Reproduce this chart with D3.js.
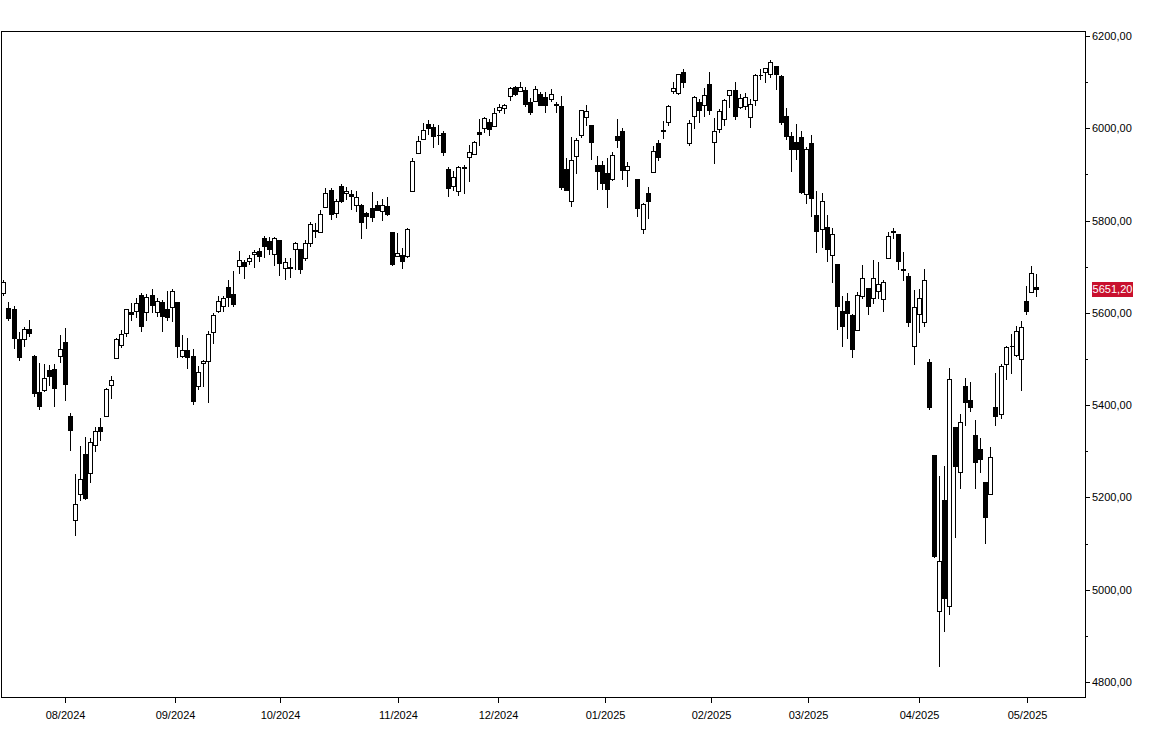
<!DOCTYPE html>
<html><head><meta charset="utf-8">
<script src="https://cdn.jsdelivr.net/npm/d3@7"></script>
<style>
html,body{margin:0;padding:0;background:#fff;}
svg{display:block;}
</style>
</head><body>
<svg id="chart" width="1163" height="747"></svg>
<script>
// ---------- DATA ----------
const dates = [
"2024-07-16","2024-07-17","2024-07-18","2024-07-19","2024-07-22","2024-07-23","2024-07-24","2024-07-25","2024-07-26","2024-07-29","2024-07-30","2024-07-31",
"2024-08-01","2024-08-02","2024-08-05","2024-08-06","2024-08-07","2024-08-08","2024-08-09","2024-08-12","2024-08-13","2024-08-14","2024-08-15","2024-08-16","2024-08-19","2024-08-20","2024-08-21","2024-08-22","2024-08-23","2024-08-26","2024-08-27","2024-08-28","2024-08-29","2024-08-30",
"2024-09-03","2024-09-04","2024-09-05","2024-09-06","2024-09-09","2024-09-10","2024-09-11","2024-09-12","2024-09-13","2024-09-16","2024-09-17","2024-09-18","2024-09-19","2024-09-20","2024-09-23","2024-09-24","2024-09-25","2024-09-26","2024-09-27","2024-09-30",
"2024-10-01","2024-10-02","2024-10-03","2024-10-04","2024-10-07","2024-10-08","2024-10-09","2024-10-10","2024-10-11","2024-10-14","2024-10-15","2024-10-16","2024-10-17","2024-10-18","2024-10-21","2024-10-22","2024-10-23","2024-10-24","2024-10-25","2024-10-28","2024-10-29","2024-10-30","2024-10-31",
"2024-11-01","2024-11-04","2024-11-05","2024-11-06","2024-11-07","2024-11-08","2024-11-11","2024-11-12","2024-11-13","2024-11-14","2024-11-15","2024-11-18","2024-11-19","2024-11-20","2024-11-21","2024-11-22","2024-11-25","2024-11-26","2024-11-27","2024-11-29",
"2024-12-02","2024-12-03","2024-12-04","2024-12-05","2024-12-06","2024-12-09","2024-12-10","2024-12-11","2024-12-12","2024-12-13","2024-12-16","2024-12-17","2024-12-18","2024-12-19","2024-12-20","2024-12-23","2024-12-24","2024-12-26","2024-12-27","2024-12-30","2024-12-31",
"2025-01-02","2025-01-03","2025-01-06","2025-01-07","2025-01-08","2025-01-09","2025-01-10","2025-01-13","2025-01-14","2025-01-15","2025-01-16","2025-01-17","2025-01-21","2025-01-22","2025-01-23","2025-01-24","2025-01-27","2025-01-28","2025-01-29","2025-01-30","2025-01-31",
"2025-02-03","2025-02-04","2025-02-05","2025-02-06","2025-02-07","2025-02-10","2025-02-11","2025-02-12","2025-02-13","2025-02-14","2025-02-18","2025-02-19","2025-02-20","2025-02-21","2025-02-24","2025-02-25","2025-02-26","2025-02-27","2025-02-28",
"2025-03-03","2025-03-04","2025-03-05","2025-03-06","2025-03-07","2025-03-10","2025-03-11","2025-03-12","2025-03-13","2025-03-14","2025-03-17","2025-03-18","2025-03-19","2025-03-20","2025-03-21","2025-03-24","2025-03-25","2025-03-26","2025-03-27","2025-03-28","2025-03-31",
"2025-04-01","2025-04-02","2025-04-03","2025-04-04","2025-04-07","2025-04-08","2025-04-09","2025-04-10","2025-04-11","2025-04-14","2025-04-15","2025-04-16","2025-04-17","2025-04-21","2025-04-22","2025-04-23","2025-04-24","2025-04-25","2025-04-28","2025-04-29","2025-04-30",
"2025-05-01","2025-05-02","2025-05-05"
];

const open = [
5644.09,5610.23,5608.56,5543.37,5544.36,5565.30,5505.84,5428.70,5433.67,5476.55,5478.73,5505.59,
5537.84,5376.63,5151.14,5206.42,5293.13,5252.57,5312.70,5351.88,5376.98,5442.79,5501.13,5530.50,5557.23,5602.88,5603.09,5637.77,5602.52,5639.66,5602.89,5624.51,5607.30,5612.74,
5623.89,5506.68,5520.08,5507.33,5442.07,5490.51,5496.42,5557.48,5603.34,5615.21,5655.51,5641.68,5702.63,5709.32,5711.90,5727.93,5733.65,5762.22,5755.36,5726.52,
5757.73,5698.14,5698.19,5737.80,5737.80,5719.14,5751.80,5778.36,5775.09,5829.81,5866.74,5816.58,5875.62,5859.43,5857.82,5832.70,5834.50,5816.06,5826.75,5833.93,5819.68,5832.65,5775.34,
5723.22,5725.15,5722.43,5864.89,5947.21,5976.76,6008.86,6003.60,5985.75,5989.68,5912.79,5874.17,5863.06,5914.62,5938.00,5944.36,5992.28,6000.03,6014.11,6003.98,
6040.11,6042.97,6069.39,6089.03,6081.38,6083.01,6057.59,6060.15,6074.29,6068.17,6063.79,6052.55,6047.65,5912.71,5842.00,5940.25,5984.63,6024.97,6006.17,5920.67,5919.74,
5903.26,5891.07,5982.81,5993.26,5910.66,null,5890.66,5782.32,5859.10,5905.21,5967.36,5995.00,6014.12,6081.39,6076.32,6121.43,5969.04,6026.97,6057.70,6050.75,6096.79,
5969.65,5998.14,6020.45,6072.22,6083.13,6046.40,6049.32,6025.08,6060.59,6115.52,6121.60,6117.76,6134.50,6114.10,6026.69,5982.73,5970.87,5981.88,5856.74,
5968.33,5811.98,5781.41,5785.87,5726.01,5705.37,5603.65,5624.84,5594.45,5563.85,5635.60,5654.53,5632.37,5646.92,5630.73,5718.08,5775.88,5771.66,5695.64,5679.74,5527.91,
5597.53,5580.76,5492.74,5292.14,4953.79,5193.57,4965.28,5353.15,5255.56,5441.96,5411.99,5335.75,5305.45,5232.94,5207.67,5395.92,5381.38,5489.73,5529.22,5508.87,5499.44,
5625.14,5645.26,5655.32
];

const high = [
5670.49,5622.49,5614.05,5557.50,5570.36,5585.34,5508.04,5491.59,5488.32,5487.74,5489.46,5551.51,
5566.16,5383.89,5250.89,5312.34,5330.64,5328.03,5351.79,5371.20,5436.50,5463.22,5546.23,5561.98,5608.30,5620.51,5632.68,5643.22,5641.82,5651.62,5631.18,5627.03,5646.95,5651.37,
5623.89,5552.99,5546.30,5522.47,5484.20,5497.91,5560.41,5600.71,5636.27,5636.05,5670.81,5689.75,5733.57,5715.14,5725.36,5735.32,5741.03,5767.37,5764.68,5765.14,
5757.73,5719.14,5718.78,5753.35,5739.34,5757.60,5796.80,5795.03,5822.13,5871.41,5870.36,5846.52,5878.46,5872.17,5866.92,5863.04,5834.85,5817.80,5862.82,5842.92,5847.19,5850.94,5775.34,
5772.52,5741.43,5783.44,5936.14,5983.84,6012.45,6017.31,6009.92,6008.19,5993.88,5915.26,5908.12,5917.89,5920.67,5962.75,5972.90,6020.75,6025.42,6020.16,6044.17,
6053.58,6052.07,6089.84,6092.60,6099.97,6088.51,6065.40,6092.59,6079.68,6078.58,6085.19,6057.68,6070.67,5935.52,5982.06,5978.25,6040.10,6049.75,6006.17,5940.79,5929.74,
5935.09,5949.34,6021.04,6000.68,5927.89,null,5890.66,5838.80,5871.92,5960.61,5974.05,6014.96,6051.51,6100.81,6118.73,6128.18,6017.17,6069.90,6062.83,6086.64,6120.91,
6022.13,6042.48,6062.86,6084.03,6101.28,6073.38,6076.28,6063.20,6116.91,6127.47,6129.63,6147.43,6134.50,6114.82,6043.65,5992.65,6009.82,5993.69,5959.40,
5986.09,5865.08,5860.59,5812.08,5783.01,5705.37,5636.30,5642.19,5597.78,5645.27,5703.52,5654.53,5715.33,5711.15,5670.84,5775.14,5783.98,5771.66,5732.28,5685.89,5650.57,
5650.83,5695.31,5499.53,5292.14,5246.57,5267.47,5481.34,5353.15,5381.46,5459.46,5450.41,5367.24,5328.31,5232.94,5309.60,5469.69,5489.40,5528.11,5553.66,5571.95,5581.84,
5658.91,5700.70,5683.49
];

const low = [
5639.02,5584.81,5522.81,5497.04,5529.04,5550.90,5419.98,5390.95,5430.70,5444.44,5398.86,5493.75,
5410.42,5302.03,5119.26,5193.56,5195.54,5233.85,5300.86,5324.37,5376.98,5415.14,5501.13,5525.17,5550.74,5585.50,5591.57,5560.95,5585.16,5602.34,5593.48,5560.95,5583.71,5581.79,
5504.33,5503.66,5480.00,5402.62,5434.49,5441.72,5406.96,5535.50,5601.65,5604.53,5614.05,5615.08,5686.42,5674.49,5704.94,5698.99,5712.06,5721.01,5727.73,5703.53,
5681.28,5674.00,5676.94,5696.04,5686.85,5714.56,5745.02,5764.76,5775.09,5829.81,5804.48,5808.34,5840.25,5846.11,5824.80,5821.17,5762.41,5784.92,5799.98,5823.08,5802.17,5811.28,5702.86,
5723.22,5696.51,5722.10,5864.89,5947.21,5976.76,5986.69,5960.08,5965.91,5942.28,5853.01,5865.95,5855.03,5860.58,5885.42,5944.36,5963.91,5992.27,5984.87,6003.98,
6035.33,6033.39,6061.06,6071.60,6079.98,6048.63,6029.89,6060.15,6050.00,6035.77,6059.14,6035.19,5867.79,5866.07,5832.30,5902.57,5981.44,6007.37,5932.95,5869.16,5868.86,
5829.53,5888.66,5960.01,5890.68,5874.78,null,5809.59,5773.31,5805.45,5905.21,5931.95,5978.00,6006.88,6076.13,6074.67,6088.74,5962.92,6001.53,6012.96,6027.46,6030.93,
5923.93,5990.87,6007.06,6046.83,6019.96,6044.84,6042.34,6003.00,6051.00,6107.62,6099.51,6111.15,6084.59,6008.56,5977.83,5908.49,5932.69,5858.78,5837.66,
5810.91,5732.59,5742.35,5711.64,5666.29,5564.02,5528.41,5546.09,5504.65,5563.85,5631.12,5597.76,5622.20,5632.33,5603.10,5718.08,5761.84,5694.41,5670.94,5572.42,5488.73,
5558.52,5571.48,5390.83,5069.90,4835.04,4910.42,4948.43,5115.27,5220.77,5358.02,5386.44,5220.79,5255.58,5101.63,5207.67,5356.18,5371.96,5455.86,5468.64,5505.70,5433.24,
5597.35,5644.96,5637.46
];

const close = [
5667.20,5588.27,5544.59,5505.00,5564.41,5555.74,5427.13,5399.22,5459.10,5463.54,5436.44,5522.30,
5446.68,5346.56,5186.33,5240.03,5199.50,5319.31,5344.16,5344.39,5434.43,5455.21,5543.22,5554.25,5608.25,5597.12,5620.85,5570.64,5634.61,5616.84,5625.80,5592.18,5591.96,5648.40,
5528.93,5520.07,5503.41,5408.42,5471.05,5495.52,5554.13,5595.76,5626.02,5633.09,5634.58,5618.26,5713.64,5702.55,5718.57,5732.93,5722.26,5745.37,5738.17,5762.48,
5708.75,5709.54,5699.94,5751.07,5695.94,5751.13,5792.04,5780.05,5815.03,5859.85,5815.26,5842.47,5841.47,5864.67,5853.98,5851.20,5797.42,5809.86,5808.12,5823.52,5832.92,5813.67,5705.45,
5728.80,5712.69,5782.76,5929.04,5973.10,5995.54,6001.35,5983.99,5985.38,5949.17,5870.62,5893.62,5916.98,5917.11,5948.71,5969.34,5987.37,6021.63,5998.74,6032.38,
6047.15,6049.88,6086.49,6075.11,6090.27,6052.85,6034.91,6084.19,6051.25,6051.09,6074.08,6050.61,5872.16,5867.08,5930.85,5974.07,6040.04,6037.59,5970.84,5906.94,5881.63,
5868.55,5942.47,5975.38,5909.03,5918.25,null,5827.04,5836.22,5842.91,5949.91,5937.34,5996.66,6049.24,6086.37,6118.71,6101.24,6012.28,6067.70,6039.31,6071.17,6040.53,
5994.57,6037.88,6061.48,6083.57,6025.99,6066.44,6068.50,6051.97,6115.07,6114.63,6129.58,6144.15,6117.52,6013.13,5983.25,5955.25,5956.06,5861.57,5954.50,
5849.72,5778.15,5842.63,5738.52,5770.20,5614.56,5572.07,5599.30,5521.52,5638.94,5675.12,5614.66,5675.29,5662.89,5667.56,5767.57,5776.65,5712.20,5693.31,5580.94,5611.85,
5633.07,5670.97,5396.52,5074.08,5062.25,4982.77,5456.90,5268.05,5363.36,5405.97,5396.63,5275.70,5282.70,5158.20,5287.76,5375.86,5484.77,5525.21,5528.75,5560.83,5569.06,
5604.14,5686.67,5651.20
];

const monthStarts = ["2024-08-01","2024-09-01","2024-10-01","2024-11-01","2024-12-01","2025-01-01","2025-02-01","2025-03-01","2025-04-01","2025-05-01"];
const monthLabels = ["08/2024","09/2024","10/2024","11/2024","12/2024","01/2025","02/2025","03/2025","04/2025","05/2025"];
const yTickValues = [4800,5000,5200,5400,5600,5800,6000,6200];
const yMinorTickValues = [4900,5100,5300,5500,5700,5900,6100];
const lastPrice = 5651.20;

// ---------- CHART ----------
const FONT = "'Liberation Sans', Arial, Helvetica, sans-serif";
const svg = d3.select("#chart");
const plot = {left: 1, top: 31, right: 1085, bottom: 697};

const parse = d3.utcParse("%Y-%m-%d");
const x = d3.scaleBand().domain(dates).range([1.24, 1039.4]).padding(0);
const bw = x.bandwidth();
const center = d => x(d) + bw / 2;
const y = d3.scaleLinear().domain([4800, 6200]).range([682, 36]);

// time -> x through the bar centres (for month ticks)
const xTime = d3.scaleLinear()
  .domain(dates.map(d => +parse(d)))
  .range(dates.map(center));

const bars = dates.map((d, i) => ({d, o: open[i], h: high[i], l: low[i], c: close[i]}))
  .filter(b => b.o != null);

// frame
svg.append("rect")
  .attr("x", plot.left + 0.5).attr("y", plot.top + 0.5)
  .attr("width", plot.right - plot.left).attr("height", plot.bottom - plot.top)
  .attr("fill", "none").attr("stroke", "#000").attr("shape-rendering", "crispEdges");

const g = svg.append("g").attr("shape-rendering", "crispEdges");

// wicks
g.selectAll("line.wick").data(bars).join("line")
  .attr("class", "wick")
  .attr("x1", b => Math.floor(center(b.d)) + 0.5)
  .attr("x2", b => Math.floor(center(b.d)) + 0.5)
  .attr("y1", b => Math.round(y(b.h)))
  .attr("y2", b => Math.round(y(b.l)) + 1)
  .attr("stroke", "#000").attr("stroke-width", 1);

// bodies
g.selectAll("path.body").data(bars).join("path")
  .attr("class", "body")
  .attr("d", b => {
    const cx = Math.floor(center(b.d)) + 0.5;
    const t = Math.round(y(Math.max(b.o, b.c))) + 0.5;
    const bt = Math.round(y(Math.min(b.o, b.c))) + 0.5;
    return `M${cx - 2},${t}H${cx + 2}V${bt}H${cx - 2}Z`;
  })
  .attr("fill", b => b.c >= b.o ? "#fff" : "#000")
  .attr("stroke", "#000").attr("stroke-width", 1);

// y axis
const locale = d3.formatLocale({decimal: ",", thousands: ".", grouping: [3], currency: ["", ""]});
const fmt = locale.format(".2f");

svg.append("g")
  .attr("transform", `translate(${plot.right},0)`)
  .call(d3.axisRight(y).tickValues(yTickValues).tickSize(5).tickPadding(2).tickFormat(fmt))
  .call(a => a.select(".domain").remove())
  .call(a => a.selectAll("line").attr("shape-rendering", "crispEdges"))
  .attr("font-family", FONT).attr("font-size", 11);

svg.append("g")
  .attr("transform", `translate(${plot.right},0)`)
  .call(d3.axisRight(y).tickValues(yMinorTickValues).tickSize(3).tickFormat(""))
  .call(a => a.select(".domain").remove())
  .call(a => a.selectAll("line").attr("shape-rendering", "crispEdges"));

// x axis
const monthDates = monthStarts.map(parse);
svg.append("g")
  .attr("transform", `translate(0,${plot.bottom})`)
  .call(d3.axisBottom(xTime).tickValues(monthDates.map(d => +d)).tickSize(6).tickPadding(8)
    .tickFormat((d, i) => monthLabels[i]))
  .call(a => a.select(".domain").remove())
  .call(a => a.selectAll(".tick").attr("transform", d => `translate(${Math.round(xTime(d)) + 0.5},0)`))
  .call(a => a.selectAll("line").attr("shape-rendering", "crispEdges"))
  .attr("font-family", FONT).attr("font-size", 11);

// last price label
const ly = Math.round(y(lastPrice));
svg.append("rect")
  .attr("x", 1092).attr("y", ly - 7).attr("width", 41).attr("height", 15)
  .attr("fill", "#c8102e");
svg.append("text")
  .attr("x", 1112.5).attr("y", ly).attr("dy", "0.36em")
  .attr("text-anchor", "middle")
  .attr("font-family", FONT).attr("font-size", 11).attr("fill", "#fff")
  .text(fmt(lastPrice));
</script>
</body></html>
